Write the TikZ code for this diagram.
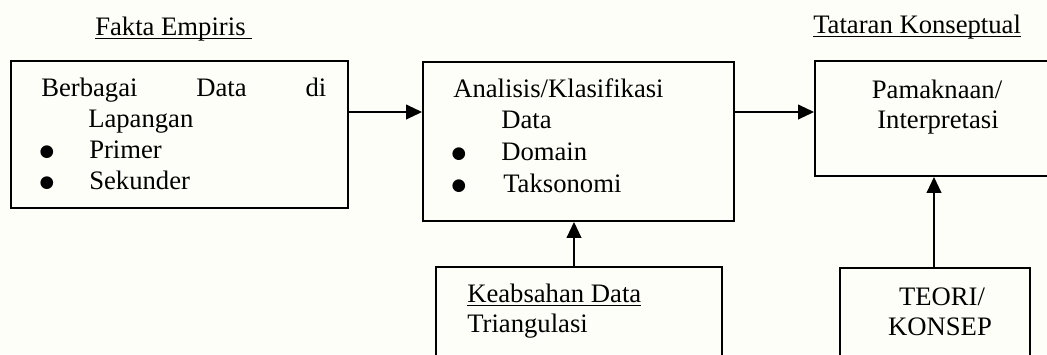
\documentclass[tikz,border=0pt]{standalone}
\usepackage{fontspec}
\setmainfont{Liberation Serif}
\newfontfamily\simbol{DejaVu Sans}
\usepackage{tikz}
\usetikzlibrary{arrows.meta}
\definecolor{latar}{RGB}{254,254,249}
\newcommand{\garis}[1]{\setbox0\hbox{#1}\rlap{\rule[-3pt]{\wd0}{0.9pt}}\box0}
\tikzset{
  kotak/.style={draw, line width=1.4pt, inner sep=0pt},
  teks/.style={anchor=base west, inner sep=0pt, font=\fontsize{20}{23}\selectfont},
  tengahteks/.style={teks, anchor=base},
  butir/.style={anchor=center, inner sep=0pt, font=\simbol\fontsize{12.5}{12.5}\selectfont},
  panah/.style={line width=1.4pt, -{Triangle[length=12pt,width=11pt]}}
}

\begin{document}
\begin{tikzpicture}[x=0.75pt,y=0.75pt,yscale=-1,xscale=1]
        \path[use as bounding box] (0,0) rectangle (1047,354);
        \clip (0,0) rectangle (1047,354);
        \fill[latar] (0,0) rectangle (1047,354);

        \node[kotak, minimum width=252.75pt, minimum height=110.25pt] (lapangan) at (179.5,134.5) {};
        \node[kotak, minimum width=233.25pt, minimum height=119.25pt] (analisis) at (578.5,141.5) {};
        \node[kotak, minimum width=183pt, minimum height=86.25pt] (makna) at (937,118.5) {};
        \node[kotak, minimum width=214.5pt, minimum height=99.75pt] (keabsahan) at (579,333.5) {};
        \node[kotak, minimum width=142.5pt, minimum height=99pt] (teori) at (935,334) {};

        \node[teks] (judulkiri) at (95,35) {\garis{Fakta Empiris\ }};
        \node[teks] (judulkanan) at (813,33) {\garis{Tataran Konseptual}};

        \node[teks] (berbagai) at (41,96) {\makebox[213.75pt][s]{Berbagai Data di}};
        \node[teks] (lapangantxt) at (88,127) {Lapangan};
        \node[butir] (titik1) at (47,152) {●};
        \node[teks] (primer) at (89,158) {Primer};
        \node[butir] (titik2) at (47,183) {●};
        \node[teks] (sekunder) at (89,189) {Sekunder};

        \node[teks] (klasifikasi) at (453,97) {Analisis/Klasifikasi};
        \node[teks] (data) at (501,128) {Data};
        \node[butir] (titik3) at (459,154) {●};
        \node[teks] (domain) at (501,160) {Domain};
        \node[butir] (titik4) at (459,186) {●};
        \node[teks] (taksonomi) at (503,192) {Taksonomi};

        \node[tengahteks] (pamaknaan) at (937,98) {Pamaknaan/};
        \node[tengahteks] (interpretasi) at (938,128) {Interpretasi};

        \node[teks] (keabsahantxt) at (467,302) {\garis{Keabsahan Data}};
        \node[teks] (triangulasi) at (467,332) {Triangulasi};

        \node[tengahteks] (teoritxt) at (942,305) {TEORI/};
        \node[tengahteks] (konsep) at (940,335) {KONSEP};

        \coordinate (jalur) at (0,112);
        \coordinate (tengah) at (574,0);
        \coordinate (kanan) at (934,0);
        \draw[panah] (lapangan.east |- jalur) -- (analisis.west |- jalur);
        \draw[panah] (analisis.east |- jalur) -- (makna.west |- jalur);
        \draw[panah] (keabsahan.north -| tengah) -- (analisis.south -| tengah);
        \draw[panah] (teori.north -| kanan) -- (makna.south -| kanan);
\end{tikzpicture}
\end{document}
